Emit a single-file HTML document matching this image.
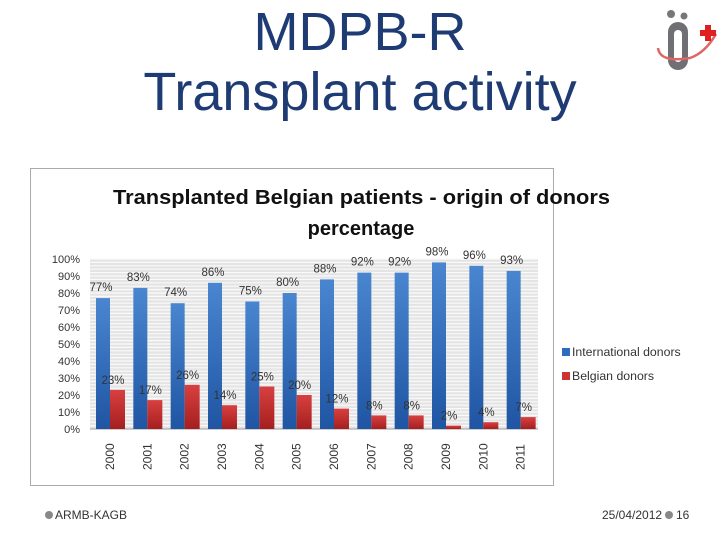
<!DOCTYPE html>
<html><head><meta charset="utf-8"><style>
body{margin:0;width:720px;height:540px;background:#fff;overflow:hidden;position:relative;font-family:"Liberation Sans",sans-serif}
.t{position:absolute;left:0;width:720px;text-align:center;color:#1f3b73;font-size:54px;line-height:1}
</style></head><body>
<div class="t" style="top:5px">MDPB-R</div>
<div class="t" style="top:65px">Transplant activity</div>
<svg style="position:absolute;left:650px;top:8px" width="68" height="66" viewBox="0 0 68 66">
<circle cx="21" cy="6" r="4" fill="#777"/><circle cx="34" cy="8" r="3.5" fill="#777"/>
<rect x="18" y="14" width="20" height="48" rx="10" fill="#6f6f74"/><rect x="24" y="22" width="8" height="32" rx="4" fill="#fff"/>
<path d="M8 40 Q10 55 40 50 Q55 45 66 26" stroke="#d66" stroke-width="2.5" fill="none"/>
<rect x="50" y="22" width="16" height="6" fill="#e02020"/><rect x="55" y="17" width="6" height="16" fill="#e02020"/>
</svg>
<svg style="position:absolute;left:0;top:0" width="720" height="540" id="c">
<defs>
<linearGradient id="gb" x1="0" x2="0" y1="0" y2="1"><stop offset="0" stop-color="#4a86d0"/><stop offset="1" stop-color="#1f55a3"/></linearGradient>
<linearGradient id="gr" x1="0" x2="0" y1="0" y2="1"><stop offset="0" stop-color="#d84040"/><stop offset="1" stop-color="#a51f1f"/></linearGradient>
</defs>
<rect x="30.5" y="168.5" width="523" height="317" fill="#fff" stroke="#aaa"/>
<text x="113" y="204" font-size="20" font-weight="bold" fill="#111" textLength="497" lengthAdjust="spacingAndGlyphs">Transplanted Belgian patients - origin of donors</text>
<text x="361" y="235" text-anchor="middle" font-size="20" font-weight="bold" fill="#111">percentage</text>
<g id="plot"></g>
<rect x="562" y="348" width="8" height="8" fill="#2d6bbf"/>
<text x="572" y="356" font-size="12.3" fill="#333">International donors</text>
<rect x="562" y="372" width="8" height="8" fill="#c33"/>
<text x="572" y="380" font-size="12.3" fill="#333">Belgian donors</text>
<circle cx="49" cy="515" r="4" fill="#888"/>
<text x="55" y="519" font-size="12" fill="#333">ARMB-KAGB</text>
<text x="602" y="519" font-size="12" fill="#333">25/04/2012</text>
<circle cx="669" cy="515" r="4" fill="#888"/>
<text x="676" y="519" font-size="12" fill="#333">16</text>
</svg>
<script>
const years=["2000","2001","2002","2003","2004","2005","2006","2007","2008","2009","2010","2011"];
const intl=[77,83,74,86,75,80,88,92,92,98,96,93];
const belg=[23,17,26,14,25,20,12,8,8,2,4,7];
const yTicks=[0,10,20,30,40,50,60,70,80,90,100];
const NS="http://www.w3.org/2000/svg";
const g=document.getElementById('plot');
const L=90,R=538,T=259,B=429,gw=(R-L)/years.length;
const y=v=>B-(B-T)*v/100;
function mk(t,a,txt){const e=document.createElementNS(NS,t);for(const k in a)e.setAttribute(k,a[k]);if(txt!=null)e.textContent=txt;g.appendChild(e);return e;}
mk('rect',{x:L,y:T,width:R-L,height:B-T,fill:'#e4e4e4'});
for(let v=0;v<=100;v+=2){const l=mk('line',{x1:L,x2:R,y1:y(v),y2:y(v),stroke:'#fafafa','stroke-width':1.2});}
yTicks.forEach(v=>{const t=mk('text',{x:80,y:y(v)+4,'text-anchor':'end','font-size':11,fill:'#333'},v+'%');});
mk('line',{x1:L,x2:R,y1:B,y2:B,stroke:'#999'});
years.forEach((yr,i)=>{
 const x0=L+i*gw+6;
 const b=mk('rect',{x:x0,y:y(intl[i]),width:14,height:B-y(intl[i]),fill:'url(#gb)'});
 
 const r=mk('rect',{x:x0+14,y:y(belg[i]),width:15,height:B-y(belg[i]),fill:'url(#gr)'});
 
 const l1=mk('text',{x:x0+5,y:y(intl[i])-7,'text-anchor':'middle','font-size':11.5,fill:'#333'},intl[i]+'%');
 
 const l2=mk('text',{x:x0+17,y:y(belg[i])-6,'text-anchor':'middle','font-size':11.5,fill:'#333'},belg[i]+'%');
 
 const xl=x0+14,yl=470;
 const t=mk('text',{x:xl,y:yl,transform:`rotate(-90 ${xl} ${yl})`,'font-size':12,fill:'#333',dy:4},yr);
 
});
</script>
</body></html>
